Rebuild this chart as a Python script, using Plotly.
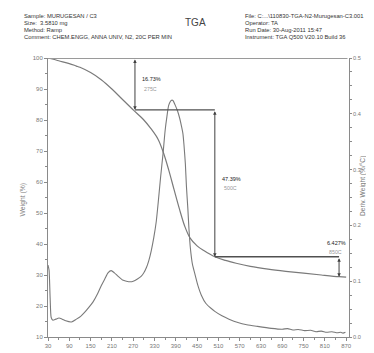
import plotly.graph_objects as go

# ---------------- data ----------------
weight_temp = [30, 45, 60, 90, 110, 120, 150, 180, 210, 240, 270, 300, 320, 340, 355, 370, 385,
               400, 415, 430, 450, 470, 500, 530, 560, 600, 650, 700, 750, 800, 850, 870]
weight_pct = [100.0, 99.6, 99.1, 98.2, 97.4, 97.0, 95.3, 93.0, 90.0, 86.6, 83.27, 80.0, 77.2,
              73.8, 69.5, 63.9, 57.6, 51.4, 45.8, 42.0, 39.4, 37.8, 35.88, 34.7, 33.8, 32.8,
              31.9, 31.2, 30.6, 30.0, 29.45, 29.3]

deriv_temp = [30, 33, 36, 39, 44, 52, 61, 70, 80, 96, 110, 122, 133, 145, 157, 170, 180, 190,
              199, 208, 217, 227, 240, 251, 262, 270, 282, 293, 300, 307, 314, 321, 328, 335,
              340, 347, 354, 360, 365, 370, 377, 382, 388, 395, 401, 406, 410, 413, 417, 420,
              424, 427, 431, 437, 443, 452, 462, 475, 490, 500, 520, 540, 565, 590, 620, 659,
              690, 705, 720, 735, 753, 770, 785, 800, 815, 830, 845, 855, 861, 868]
deriv_val = [0.129, 0.12, 0.07, 0.035, 0.030, 0.032, 0.034, 0.032, 0.029, 0.027, 0.032, 0.037,
             0.044, 0.053, 0.063, 0.078, 0.092, 0.104, 0.115, 0.119, 0.115, 0.109, 0.102, 0.100,
             0.099, 0.100, 0.104, 0.109, 0.115, 0.124, 0.137, 0.155, 0.178, 0.207, 0.238, 0.285,
             0.328, 0.370, 0.395, 0.415, 0.424, 0.424, 0.416, 0.405, 0.392, 0.378, 0.365, 0.345,
             0.310, 0.270, 0.230, 0.195, 0.160, 0.130, 0.115, 0.093, 0.075, 0.060, 0.051, 0.046,
             0.038, 0.032, 0.026, 0.022, 0.019, 0.0155, 0.014, 0.0150, 0.0125, 0.0135, 0.0115,
             0.0120, 0.0095, 0.0105, 0.0085, 0.0095, 0.0075, 0.0085, 0.0070, 0.0085]

step_temps = [275, 500, 850]                 # where the vertical step arrows are drawn
step_levels = [100.0, 83.27, 35.88, 29.45]   # weight levels bounding each step
step_pct_labels = ["16.73%", "47.39%", "6.427%"]
step_temp_labels = ["275C", "500C", "850C"]

x_ticks = list(range(30, 871, 60))
header_left = ["Sample: MURUGESAN / C3", "Size:  3.5810 mg", "Method: Ramp",
               "Comment: CHEM.ENGG, ANNA UNIV, N2, 20C PER MIN"]
header_right = ["File: C:...\\110830-TGA-N2-Murugesan-C3.001", "Operator: TA",
                "Run Date: 30-Aug-2011 15:47", "Instrument: TGA Q500 V20.10 Build 36"]

# ---------------- figure ----------------
W, H = 374, 353
ML, MR, MT, MB = 40, 33, 50, 13
PW, PH = W - ML - MR, H - MT - MB


def px(xp):
    return (xp - ML) / PW


def py(yp):
    return (H - MB - yp) / PH


FONT = "Liberation Sans, Arial, sans-serif"
curve_col = "#7a7a7a"
line_col = "#505050"
axis_col = "#8a8a8a"

fig = go.Figure()
fig.add_trace(go.Scatter(x=weight_temp, y=weight_pct, mode="lines",
                         line=dict(color=curve_col, width=1.2, shape="spline"),
                         yaxis="y", showlegend=False))
fig.add_trace(go.Scatter(x=deriv_temp, y=deriv_val, mode="lines",
                         line=dict(color=curve_col, width=1.1, shape="spline", smoothing=0.6),
                         yaxis="y2", showlegend=False))

shapes = []
shapes.append(dict(type="line", xref="paper", x0=0, x1=0.995, yref="y",
                   y0=step_levels[0], y1=step_levels[0],
                   line=dict(color="#9a9a9a", width=2.2)))
annotations = []
for i, t in enumerate(step_temps):
    hi, lo = step_levels[i], step_levels[i + 1]
    if i + 1 < len(step_temps):
        shapes.append(dict(type="line", xref="x", yref="y", x0=t, x1=step_temps[i + 1],
                           y0=lo, y1=lo, line=dict(color=line_col, width=1.3)))
    annotations.append(dict(x=t, y=lo, ax=t, ay=hi, xref="x", yref="y", axref="x", ayref="y",
                            text="", showarrow=True, arrowhead=2, startarrowhead=2,
                            arrowside="end+start", arrowsize=0.7, arrowwidth=1,
                            arrowcolor="#404040", standoff=0, startstandoff=0))
    mid = (hi + lo) / 2
    if i < 2:
        xoff, ylab = t + 14, mid + 1.5
    else:
        xoff, ylab = t - 40, hi + 4.5
    annotations.append(dict(x=xoff, y=ylab, xref="x", yref="y", text=step_pct_labels[i],
                            showarrow=False, xanchor="left", yanchor="middle",
                            font=dict(family=FONT, size=5.5, color="#222")))
    annotations.append(dict(x=xoff + 5, y=ylab - 3.0, xref="x", yref="y",
                            text=step_temp_labels[i], showarrow=False, xanchor="left",
                            yanchor="middle", font=dict(family=FONT, size=5.3, color="#999")))

for k, s in enumerate(header_left):
    annotations.append(dict(x=px(14), y=py(6 + k * 7.5), xref="paper", yref="paper",
                            text=s, showarrow=False, xanchor="left", yanchor="middle",
                            font=dict(family=FONT, size=5.8, color="#333")))
for k, s in enumerate(header_right):
    annotations.append(dict(x=px(235), y=py(6 + k * 7.5), xref="paper", yref="paper",
                            text=s, showarrow=False, xanchor="left", yanchor="middle",
                            font=dict(family=FONT, size=5.8, color="#333")))
annotations.append(dict(x=px(187), y=py(13), xref="paper", yref="paper", text="TGA",
                        showarrow=False, xanchor="center", yanchor="middle",
                        font=dict(family=FONT, size=10, color="#444")))
annotations.append(dict(x=px(15), y=py(197), xref="paper", yref="paper",
                        text="Weight (%)", textangle=-90, showarrow=False,
                        xanchor="center", yanchor="middle",
                        font=dict(family=FONT, size=6.8, color="#777")))
annotations.append(dict(x=px(355), y=py(183), xref="paper", yref="paper",
                        text="Deriv. Weight (%/°C)", textangle=-90, showarrow=False,
                        xanchor="center", yanchor="middle",
                        font=dict(family=FONT, size=6.6, color="#777")))

tickfont = dict(family=FONT, size=6, color="#777")
fig.update_layout(
    width=W, height=H,
    margin=dict(l=ML, r=MR, t=MT, b=MB, pad=0),
    paper_bgcolor="white", plot_bgcolor="white",
    xaxis=dict(range=[30, 878], tickvals=x_ticks, ticks="outside", ticklen=3,
               tickcolor=axis_col, showline=True, linecolor=axis_col, linewidth=1,
               showgrid=False, zeroline=False, tickfont=tickfont,
               minor=dict(dtick=30, tick0=30, ticks="outside", ticklen=2, tickcolor=axis_col)),
    yaxis=dict(range=[10, 100], dtick=10, tick0=10, ticks="outside", ticklen=3,
               tickcolor=axis_col, showline=True, linecolor=axis_col, linewidth=1,
               showgrid=False, zeroline=False, tickfont=tickfont,
               minor=dict(dtick=5, ticks="outside", ticklen=2, tickcolor=axis_col)),
    yaxis2=dict(range=[0, 0.5], dtick=0.1, tick0=0, overlaying="y", side="right",
                tickformat=".1f", ticks="outside", ticklen=2, tickcolor=axis_col,
                showline=True, linecolor=axis_col, linewidth=1, showgrid=False,
                zeroline=False, tickfont=dict(family=FONT, size=5.6, color="#777"),
                minor=dict(dtick=0.025, ticks="outside", ticklen=1.5, tickcolor=axis_col)),
    shapes=shapes, annotations=annotations, showlegend=False,
)

fig.write_html("out.html")
